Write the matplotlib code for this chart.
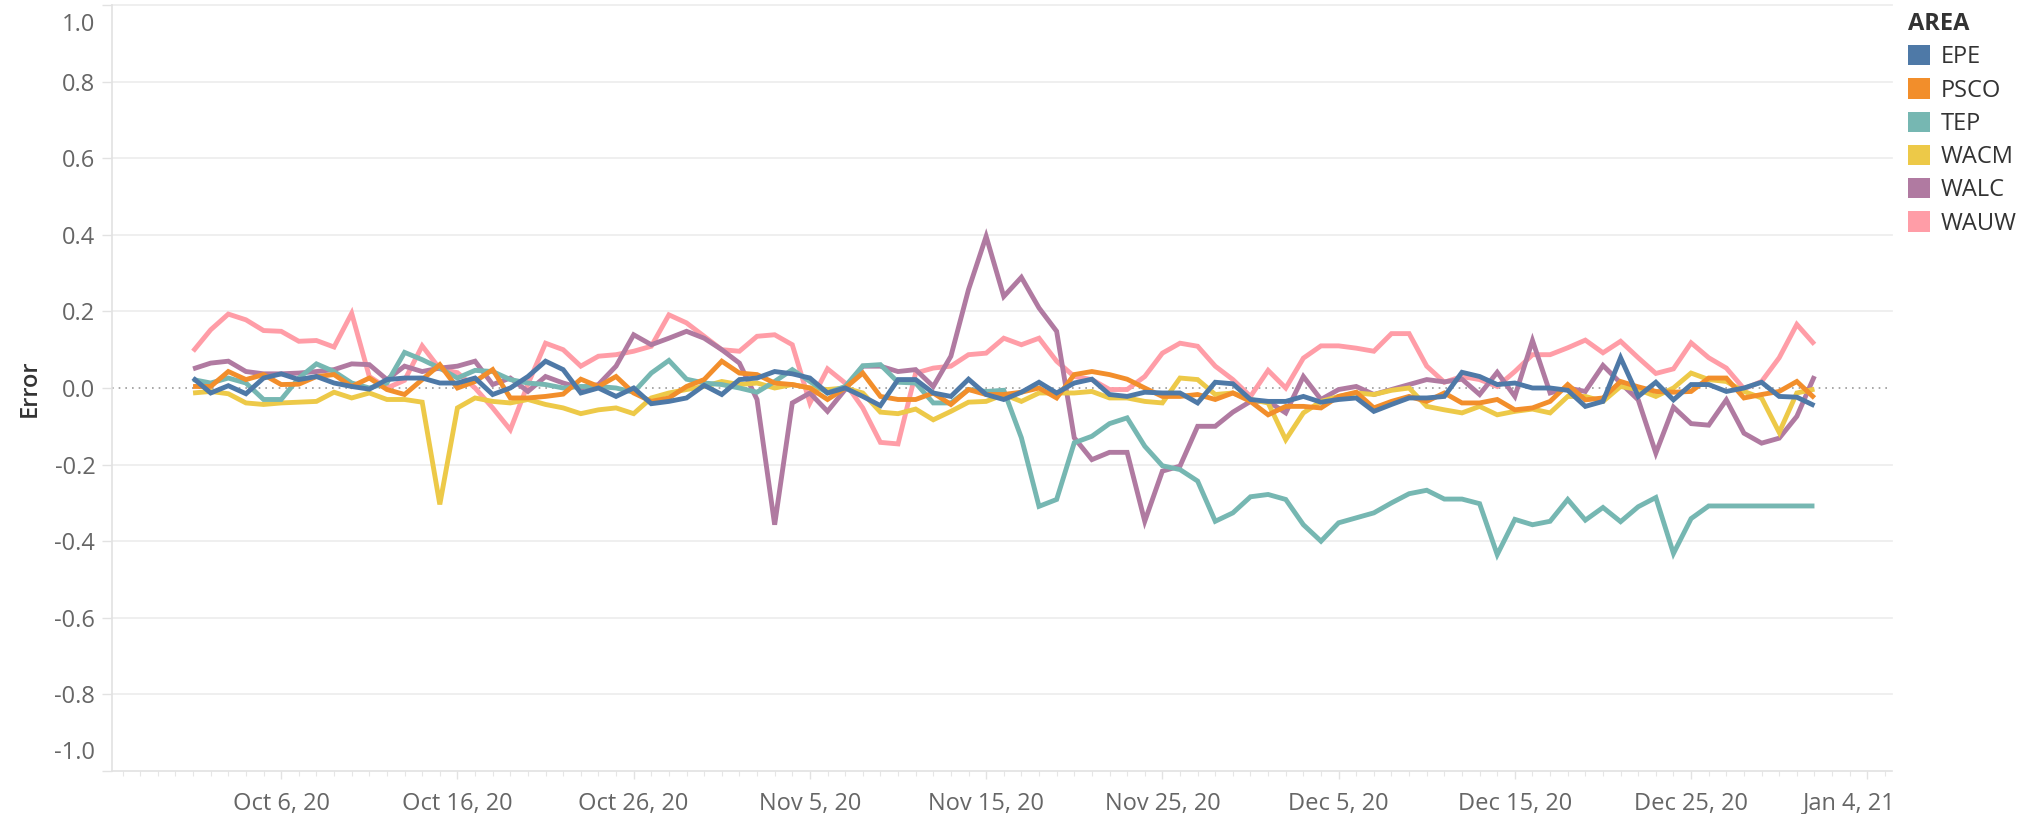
import matplotlib
matplotlib.use("Agg")
import matplotlib.pyplot as plt
import matplotlib.dates as mdates
import matplotlib.transforms as mtransforms
from matplotlib.patches import Patch
from matplotlib.ticker import FixedLocator, FuncFormatter
import pandas as pd

plt.rcParams['font.family'] = ['Open Sans', 'DejaVu Sans']

start_date = "2020-10-01"
n_days = 93
areas = ["EPE", "PSCO", "TEP", "WACM", "WALC", "WAUW"]
colors = ["#4e79a7", "#f28e2b", "#76b7b2", "#edc948", "#b07aa1", "#ff9da7"]

EPE = [0.026, -0.013, 0.006, -0.015, 0.026, 0.037, 0.022, 0.03, 0.013, 0.004, -0.003, 0.022,
       0.026, 0.026, 0.013, 0.013, 0.026, -0.017, 0.0, 0.03, 0.07, 0.048, -0.013, 0.0,
       -0.022, 0.0, -0.041, -0.035, -0.026, 0.007, -0.017, 0.022, 0.026, 0.043, 0.037, 0.026,
       -0.013, 0.0, -0.022, -0.046, 0.022, 0.022, -0.013, -0.022, 0.023, -0.017, -0.03,
       -0.011, 0.015, -0.013, 0.013, 0.023, -0.017, -0.022, -0.011, -0.013, -0.013, -0.039, 0.015, 0.011,
       -0.03, -0.035, -0.035, -0.022, -0.037, -0.03, -0.026, -0.061, -0.043, -0.026, -0.026, -0.022,
       0.041, 0.03, 0.009, 0.013, 0.0, 0.0, -0.006, -0.048, -0.035, 0.079, -0.022, 0.015,
       -0.031, 0.009, 0.009, -0.009, 0.0, 0.015, -0.022, -0.024, -0.046]
PSCO = [0.004, 0.004, 0.043, 0.022, 0.035, 0.009, 0.01, 0.03, 0.035, 0.004, 0.026, -0.004,
        -0.017, 0.022, 0.061, 0.0, 0.017, 0.048, -0.026, -0.026, -0.022, -0.016, 0.023, 0.004,
        0.03, -0.013, -0.035, -0.026, 0.004, 0.022, 0.07, 0.039, 0.035, 0.013, 0.009, 0.0,
        -0.03, 0.0, 0.039, -0.022, -0.03, -0.03, -0.013, -0.043, -0.004, -0.017, -0.017,
        -0.011, 0.0, -0.026, 0.035, 0.043, 0.035, 0.023, 0.0, -0.022, -0.022, -0.017, -0.03, -0.013,
        -0.035, -0.07, -0.048, -0.048, -0.052, -0.022, -0.011, -0.052, -0.035, -0.022, -0.035, -0.013,
        -0.039, -0.039, -0.03, -0.057, -0.052, -0.035, 0.009, -0.031, -0.026, 0.017, 0.003, -0.009,
        -0.011, -0.009, 0.026, 0.026, -0.026, -0.017, -0.009, 0.017, -0.026]
TEP = [0.022, 0.013, 0.026, 0.013, -0.03, -0.03, 0.026, 0.063, 0.043, 0.013, 0.0, 0.013,
       0.093, 0.074, 0.052, 0.026, 0.046, 0.043, 0.022, 0.013, 0.009, 0.0, 0.004, 0.004,
       0.0, -0.011, 0.039, 0.072, 0.023, 0.013, 0.009, 0.0, -0.011, 0.017, 0.048, 0.017,
       -0.013, 0.004, 0.058, 0.061, 0.015, 0.013, -0.039, -0.039, -0.004, -0.009, -0.006,
       -0.13, -0.309, -0.291, -0.143, -0.126, -0.093, -0.078, -0.152, -0.203, -0.213, -0.243, -0.348, -0.326,
       -0.284, -0.278, -0.291, -0.357, -0.4, -0.352, -0.339, -0.326, -0.3, -0.276, -0.267, -0.29,
       -0.29, -0.302, -0.435, -0.343, -0.357, -0.348, -0.291, -0.345, -0.312, -0.349, -0.31, -0.286,
       -0.432, -0.341, -0.308, -0.308, -0.308, -0.308, -0.308, -0.308, -0.308]
WACM = [-0.013, -0.009, -0.015, -0.039, -0.043, -0.039, -0.037, -0.035, -0.011, -0.026, -0.013, -0.03,
        -0.03, -0.037, -0.304, -0.052, -0.026, -0.035, -0.039, -0.03, -0.043, -0.052, -0.067, -0.057,
        -0.052, -0.067, -0.026, -0.013, -0.004, 0.004, 0.017, 0.009, 0.013, 0.0, 0.009, 0.0,
        -0.004, 0.0, -0.013, -0.063, -0.067, -0.055, -0.083, -0.061, -0.037, -0.035, -0.017,
        -0.035, -0.013, -0.013, -0.013, -0.009, -0.026, -0.026, -0.035, -0.039, 0.026, 0.022, -0.017, -0.013,
        -0.03, -0.039, -0.135, -0.065, -0.035, -0.022, -0.013, -0.017, -0.006, 0.0, -0.048, -0.057,
        -0.065, -0.048, -0.07, -0.061, -0.055, -0.065, -0.022, -0.022, -0.035, 0.004, -0.004, -0.022,
        0.0, 0.039, 0.022, 0.017, -0.009, -0.026, -0.116, -0.013, -0.003]
WALC = [0.05, 0.065, 0.07, 0.043, 0.037, 0.037, 0.039, 0.043, 0.048, 0.063, 0.061, 0.022,
        0.057, 0.043, 0.052, 0.057, 0.07, 0.009, 0.026, -0.009, 0.03, 0.013, 0.0, 0.009,
        0.057, 0.139, 0.113, 0.13, 0.148, 0.13, 0.1, 0.065, -0.03, -0.357, -0.039, -0.013,
        -0.061, -0.004, 0.057, 0.057, 0.043, 0.048, 0.004, 0.083, 0.257, 0.396, 0.239,
        0.289, 0.209, 0.148, -0.13, -0.187, -0.168, -0.168, -0.348, -0.217, -0.204, -0.1, -0.1, -0.063,
        -0.035, -0.035, -0.065, 0.03, -0.03, -0.004, 0.004, -0.017, -0.004, 0.009, 0.022, 0.016,
        0.023, -0.017, 0.041, -0.022, 0.124, -0.013, 0.0, -0.009, 0.059, 0.013, -0.031, -0.17,
        -0.05, -0.093, -0.097, -0.031, -0.118, -0.144, -0.131, -0.074, 0.031]
WAUW = [0.096, 0.152, 0.193, 0.178, 0.15, 0.148, 0.122, 0.124, 0.107, 0.195, 0.03, 0.0,
        0.02, 0.11, 0.05, 0.04, 0.0, -0.052, -0.109, 0.01, 0.117, 0.1, 0.057, 0.083,
        0.087, 0.096, 0.109, 0.191, 0.17, 0.135, 0.1, 0.096, 0.135, 0.139, 0.113, -0.039,
        0.05, 0.013, -0.052, -0.142, -0.146, 0.039, 0.052, 0.057, 0.087, 0.091, 0.13,
        0.113, 0.13, 0.07, 0.03, 0.022, -0.004, -0.004, 0.03, 0.091, 0.117, 0.109, 0.057, 0.022,
        -0.022, 0.046, 0.0, 0.078, 0.11, 0.11, 0.104, 0.096, 0.142, 0.142, 0.057, 0.015,
        0.03, 0.022, 0.004, 0.043, 0.087, 0.087, 0.105, 0.125, 0.092, 0.122, 0.079, 0.038,
        0.05, 0.118, 0.079, 0.052, -0.002, 0.017, 0.079, 0.166, 0.114]

series = {"EPE": EPE, "PSCO": PSCO, "TEP": TEP, "WACM": WACM, "WALC": WALC, "WAUW": WAUW}
y_ticks = [-1.0, -0.8, -0.6, -0.4, -0.2, 0.0, 0.2, 0.4, 0.6, 0.8, 1.0]
x_tick_dates = ["2020-10-06", "2020-10-16", "2020-10-26", "2020-11-05", "2020-11-15",
                "2020-11-25", "2020-12-05", "2020-12-15", "2020-12-25", "2021-01-04"]

dates = pd.date_range(start_date, periods=n_days, freq="D")
W, H = 2029, 814
fig = plt.figure(figsize=(W / 100, H / 100), dpi=100)
top_px, bot_px, left_px, right_px = 5, 771, 112, 1892
ax = fig.add_axes([left_px / W, 1 - bot_px / H, (right_px - left_px) / W, (bot_px - top_px) / H])

draw_order = ["WAUW", "WALC", "WACM", "TEP", "PSCO", "EPE"]
cmap = dict(zip(areas, colors))
for a in draw_order:
    ax.plot(dates, series[a], color=cmap[a], lw=3.5, solid_joinstyle="miter",
            solid_capstyle="butt", zorder=3)

d0 = mdates.date2num(dates[0])
ax.set_xlim(d0 - 4.6, d0 + 96.4)
ax.set_ylim(-1.0, 1.0)

ax.yaxis.set_major_locator(FixedLocator(y_ticks))
ax.yaxis.set_major_formatter(FuncFormatter(lambda v, p: f"{v:.1f}"))
for v in y_ticks:
    if abs(v) > 1e-9 and v > -0.99:
        ax.axhline(v, color="#ececec", lw=1.2, zorder=1, clip_on=False)
ax.axhline(0, color="#9a9a9a", lw=1.2, ls=(0, (1, 3)), zorder=2)

xt = [mdates.date2num(pd.Timestamp(d)) for d in x_tick_dates]
ax.xaxis.set_major_locator(FixedLocator(xt))
def fmt_date(v, p):
    d = mdates.num2date(v)
    return f"{d.strftime('%b')} {d.day}, {d.strftime('%y')}"
ax.xaxis.set_major_formatter(FuncFormatter(fmt_date))
ax.xaxis.set_minor_locator(mdates.DayLocator())

for s in ["top", "right"]:
    ax.spines[s].set_visible(False)
for s in ["left", "bottom"]:
    ax.spines[s].set_color("#e2e2e2")
    ax.spines[s].set_linewidth(1.2)

ax.tick_params(axis="y", which="major", length=7, width=1, color="#e2e2e2",
               labelsize=17, labelcolor="#666666", pad=5)
ax.tick_params(axis="x", which="major", length=6, width=1, color="#e2e2e2",
               labelsize=17, labelcolor="#666666", pad=9)
ax.tick_params(axis="x", which="minor", length=3.5, width=0.8, color="#e6e6e6")

ax.set_ylabel("Error", fontsize=17, color="#333333", fontweight="semibold", labelpad=9)

fig.canvas.draw()
ylabels = ax.get_yticklabels()
for lab in ylabels:
    txt = lab.get_text()
    if txt == "1.0":
        lab.set_transform(lab.get_transform() + mtransforms.ScaledTranslation(0, -17 / 100, fig.dpi_scale_trans))
    elif txt == "-1.0":
        lab.set_transform(lab.get_transform() + mtransforms.ScaledTranslation(0, 21 / 100, fig.dpi_scale_trans))
xlabels = ax.get_xticklabels()
last = xlabels[-1]
last.set_horizontalalignment("right")
last.set_transform(last.get_transform() + mtransforms.ScaledTranslation(28 / 100, 0, fig.dpi_scale_trans))

handles = [Patch(facecolor=c, edgecolor="none", label=a) for a, c in zip(areas, colors)]
leg = fig.legend(handles=handles, title="AREA", loc="upper left",
                 bbox_to_anchor=(1908 / W, 1 - 12 / H), frameon=False, fontsize=17,
                 title_fontproperties={"weight": "bold", "size": 17},
                 alignment="left", handlelength=0.95, handleheight=0.95,
                 handletextpad=0.42, labelspacing=0.38, borderaxespad=0, borderpad=0)
for t in leg.get_texts():
    t.set_color("#333333")
leg.get_title().set_color("#333333")

fig.savefig("out.png", dpi=100)
